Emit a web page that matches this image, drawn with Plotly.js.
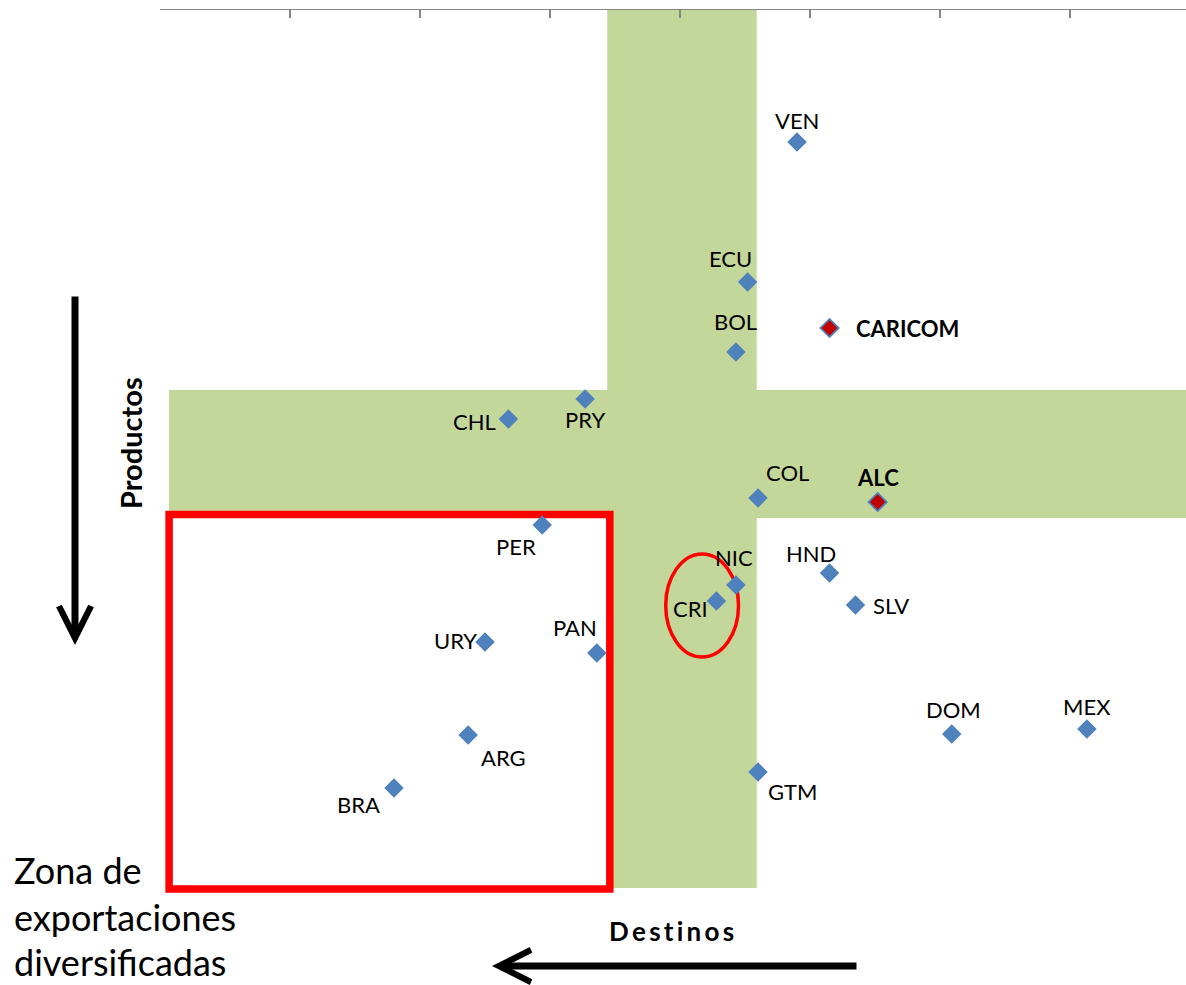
<!DOCTYPE html>
<html>
<head>
<meta charset="utf-8">
<script src="https://cdn.plot.ly/plotly-3.0.1.min.js"></script>
<style>
  html, body { margin: 0; padding: 0; background: #ffffff; }
  #chart { width: 1186px; height: 985px; }
</style>
</head>
<body>
<div id="chart"></div>
<script>
// ---- Data ----
const countries = ['VEN','ECU','BOL','CHL','PRY','COL','PER','NIC','CRI','HND','SLV','URY','PAN','DOM','MEX','ARG','BRA','GTM'];
const destinos  = [4.90, 4.52, 4.43, 2.68, 3.27, 4.60, 2.94, 4.43, 4.28, 5.15, 5.35, 2.50, 3.36, 6.09, 7.13, 2.37, 1.80, 4.60];
const productos = [1.32, 2.72, 3.42, 4.09, 3.89, 4.88, 5.15, 5.75, 5.91, 5.63, 5.95, 6.32, 6.43, 7.24, 7.19, 7.25, 7.78, 7.62];

const groups          = ['CARICOM', 'ALC'];
const groupDestinos   = [5.15, 5.52];
const groupProductos  = [3.18, 4.92];

// zones
const bandDestinos  = [3.44, 4.59];   // vertical green band (x range)
const bandProductos = [3.80, 5.08];   // horizontal green band (y range)
const zonaDestinos  = [0.07, 3.46];   // red box
const zonaProductos = [5.045, 8.79];
const criDestinos   = [3.89, 4.45];   // red ellipse
const criProductos  = [5.44, 6.47];

const zonaLines = ['Zona de', 'exportaciones', 'diversificadas'];

const xMax = 7.892, yMax = 8.9;

// ---- Styling: label offsets [dx px, dy px (down), anchor] ----
const labelStyle = {
  VEN:[0,-22,'center'], ECU:[4,-24,'right'], BOL:[0,-31,'center'], CHL:[-12,2,'right'],
  PRY:[0,20,'center'], COL:[8,-26,'left'], PER:[-6,21,'right'], NIC:[-2,-28,'center'],
  CRI:[-8,7,'right'], HND:[-19,-20,'center'], SLV:[17,0,'left'], URY:[-8,-2,'right'],
  PAN:[0,-26,'right'], DOM:[2,-25,'center'], MEX:[0,-23,'center'], ARG:[13,22,'left'],
  BRA:[-14,16,'right'], GTM:[10,19,'left'],
  CARICOM:[26,0,'left'], ALC:[0,-25,'center']
};

const BLUE = '#4F81BD', RED = '#C00000', GREEN = '#C4D79B';
const FAMILY = 'Lato, "Open Sans", sans-serif';
const LABEL_FONT = {family: FAMILY, size: 22, color: '#000000'};

// page-pixel -> paper helpers (plot area: x 160..1186, y 10..900)
const L = 160, R = 0, T = 10, B = 85, W = 1186, H = 985;
const pw = W - L - R, ph = H - T - B;
const pX = px => (px - L) / pw;
const pY = py => 1 - (py - T) / ph;

const traces = [
  {
    type: 'scatter', mode: 'markers', x: destinos, y: productos, text: countries,
    marker: {symbol: 'diamond', size: 15, color: BLUE, line: {width: 0}},
    hoverinfo: 'text'
  },
  {
    type: 'scatter', mode: 'markers', x: groupDestinos, y: groupProductos, text: groups,
    marker: {symbol: 'diamond', size: 14, color: RED, line: {width: 1.8, color: BLUE}},
    hoverinfo: 'text'
  }
];

const annotations = [];
function addLabel(name, x, y, bold) {
  const s = labelStyle[name];
  annotations.push({
    xref: 'x', yref: 'y', x: x, y: y, text: bold ? '<b>' + name + '</b>' : name,
    showarrow: false, xanchor: s[2], yanchor: 'middle', xshift: s[0], yshift: -s[1],
    font: LABEL_FONT, borderpad: 0, borderwidth: 0
  });
}
countries.forEach((c, i) => addLabel(c, destinos[i], productos[i], false));
groups.forEach((g, i) => addLabel(g, groupDestinos[i], groupProductos[i], true));

// axis titles / notes
annotations.push({
  xref: 'paper', yref: 'paper', x: pX(130), y: pY(443), text: '<b>Productos</b>', textangle: -90,
  showarrow: false, xanchor: 'center', yanchor: 'middle',
  font: {family: FAMILY, size: 29, color: '#000000'}
});
annotations.push({
  xref: 'paper', yref: 'paper', x: pX(671), y: pY(931), text: '<b>D\u2009e\u2009s\u2009t\u2009i\u2009n\u2009o\u2009s</b>',
  showarrow: false, xanchor: 'center', yanchor: 'middle',
  font: {family: FAMILY, size: 26, color: '#000000'}
});
const zonaBottoms = [892, 938.5, 984];
zonaLines.forEach((t, i) => annotations.push({
  xref: 'paper', yref: 'paper', x: pX(14), y: pY(zonaBottoms[i]), text: t,
  showarrow: false, xanchor: 'left', yanchor: 'bottom', align: 'left', borderpad: 0, borderwidth: 0,
  font: {family: FAMILY, size: 36, color: '#000000'}
}));
// arrows
annotations.push({
  xref: 'paper', yref: 'paper', x: pX(75), y: pY(645), ax: 0, ay: -350, axref: 'pixel', ayref: 'pixel',
  text: '', showarrow: true, arrowhead: 5, arrowsize: 0.9, arrowwidth: 7, arrowcolor: '#000000', standoff: 0
});
annotations.push({
  xref: 'paper', yref: 'paper', x: pX(492), y: pY(966), ax: 366, ay: 0, axref: 'pixel', ayref: 'pixel',
  text: '', showarrow: true, arrowhead: 5, arrowsize: 0.9, arrowwidth: 7, arrowcolor: '#000000', standoff: 0
});

const shapes = [
  {type: 'rect', xref: 'x', yref: 'y', layer: 'below', x0: bandDestinos[0], x1: bandDestinos[1], y0: 0, y1: 8.78,
   fillcolor: GREEN, line: {width: 0}},
  {type: 'rect', xref: 'x', yref: 'y', layer: 'below', x0: 0.069, x1: xMax, y0: bandProductos[0], y1: bandProductos[1],
   fillcolor: GREEN, line: {width: 0}},
  {type: 'rect', xref: 'x', yref: 'y', layer: 'below', x0: zonaDestinos[0], x1: zonaDestinos[1], y0: zonaProductos[0], y1: zonaProductos[1],
   fillcolor: 'rgba(0,0,0,0)', line: {width: 7.5, color: '#FF0000'}},
  {type: 'circle', xref: 'x', yref: 'y', layer: 'below', x0: criDestinos[0], x1: criDestinos[1], y0: criProductos[0], y1: criProductos[1],
   fillcolor: 'rgba(0,0,0,0)', line: {width: 3.5, color: '#FF0000'}}
];

const layout = {
  width: W, height: H,
  margin: {l: L, r: R, t: T, b: B, pad: 0},
  paper_bgcolor: '#ffffff', plot_bgcolor: '#ffffff',
  showlegend: false,
  xaxis: {
    range: [0, xMax], side: 'top', showline: true, linecolor: '#868686', linewidth: 1.5,
    ticks: 'inside', ticklen: 8, tickwidth: 1.5, tickcolor: '#868686', tick0: 0, dtick: 1,
    showticklabels: false, showgrid: false, zeroline: false
  },
  yaxis: {range: [yMax, 0], visible: false},
  shapes: shapes,
  annotations: annotations
};

Plotly.newPlot('chart', traces, layout, {displayModeBar: false, staticPlot: true});
</script>
</body>
</html>
